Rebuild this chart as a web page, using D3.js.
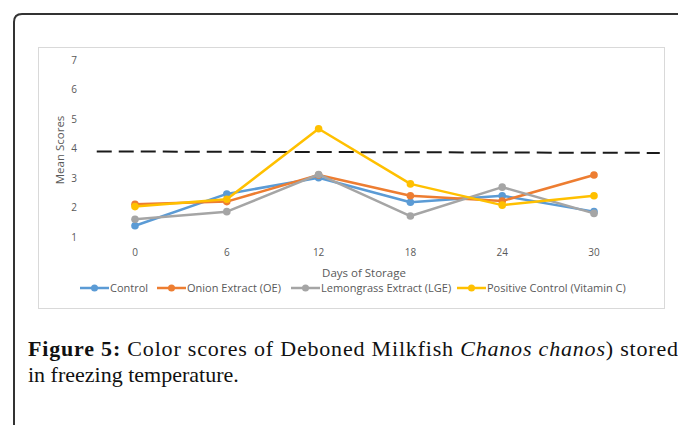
<!DOCTYPE html>
<html>
<head>
<meta charset="utf-8">
<script src="https://cdn.jsdelivr.net/npm/d3@7.9.0/dist/d3.min.js"></script>
<style>
  body { margin: 0; background: #fff; }
  svg { display: block; }
  .tick-label { font-family: "Open Sans", sans-serif; font-size: 10px; fill: #595959; }
  .axis-title { font-family: "Open Sans", sans-serif; font-size: 11.5px; fill: #595959; }
  .legend-label { font-family: "Open Sans", sans-serif; font-size: 11px; fill: #595959; }
  .caption { font-family: "Liberation Serif", "Times New Roman", serif; font-size: 22px; fill: #111; }
</style>
</head>
<body>
<div id="chart"></div>
<script>
const days = [0, 6, 12, 18, 24, 30];
const yTicks = [1, 2, 3, 4, 5, 6, 7];

const seriesNames = ["Control", "Onion Extract (OE)", "Lemongrass Extract (LGE)", "Positive Control (Vitamin C)"];
const seriesColors = ["#5B9BD5", "#ED7D31", "#A5A5A5", "#FFC000"];

const controlScores = [1.38, 2.46, 3.01, 2.18, 2.40, 1.86];
const onionScores = [2.11, 2.20, 3.10, 2.40, 2.22, 3.10];
const lemongrassScores = [1.60, 1.86, 3.12, 1.71, 2.69, 1.80];
const vitaminCScores = [2.03, 2.28, 4.67, 2.80, 2.08, 2.40];

// dashed reference line (acceptability limit)
const limitDays = [-2.5, 34.3];
const limitScores = [3.9, 3.85];

const allSeries = [controlScores, onionScores, lemongrassScores, vitaminCScores];

const W = 678, H = 425;
const svg = d3.select("#chart").append("svg")
  .attr("width", W)
  .attr("height", H);

// outer figure frame (open on right and bottom)
svg.append("path")
  .attr("d", "M14,425 L14,22 Q14,14 22,14 L680,14")
  .attr("fill", "none")
  .attr("stroke", "#333")
  .attr("stroke-width", 2);

// chart area box
svg.append("rect")
  .attr("x", 38.5)
  .attr("y", 47.5)
  .attr("width", 626)
  .attr("height", 261)
  .attr("fill", "#fff")
  .attr("stroke", "#d9d9d9")
  .attr("stroke-width", 1);

const x = d3.scaleLinear().domain([0, 30]).range([135, 594]);
const y = d3.scaleLinear().domain([1, 7]).range([237, 60]);

// y tick labels
svg.append("g").selectAll("text")
  .data(yTicks)
  .join("text")
    .attr("class", "tick-label")
    .attr("x", 77)
    .attr("y", d => y(d))
    .attr("dy", "0.35em")
    .attr("text-anchor", "end")
    .text(d => d);

// x tick labels
svg.append("g").selectAll("text")
  .data(days)
  .join("text")
    .attr("class", "tick-label")
    .attr("x", d => x(d))
    .attr("y", 252)
    .attr("dy", "0.35em")
    .attr("text-anchor", "middle")
    .text(d => d);

svg.append("text")
  .attr("class", "axis-title")
  .attr("transform", `translate(64, ${y(3.95)}) rotate(-90)`)
  .attr("text-anchor", "middle")
  .text("Mean Scores");

svg.append("text")
  .attr("class", "axis-title")
  .attr("x", 364)
  .attr("y", 273)
  .attr("dy", "0.35em")
  .attr("text-anchor", "middle")
  .text("Days of Storage");

// reference line
svg.append("line")
  .attr("x1", x(limitDays[0]))
  .attr("x2", x(limitDays[1]))
  .attr("y1", y(limitScores[0]))
  .attr("y2", y(limitScores[1]))
  .attr("stroke", "#1a1a1a")
  .attr("stroke-width", 2)
  .attr("stroke-dasharray", "15,7");

const line = d3.line()
  .x((d, i) => x(days[i]))
  .y(d => y(d));

allSeries.forEach((vals, si) => {
  const g = svg.append("g");
  g.append("path")
    .datum(vals)
    .attr("d", line)
    .attr("fill", "none")
    .attr("stroke", seriesColors[si])
    .attr("stroke-width", 2.5)
    .attr("stroke-linejoin", "round");
  g.selectAll("circle")
    .data(vals)
    .join("circle")
      .attr("cx", (d, i) => x(days[i]))
      .attr("cy", d => y(d))
      .attr("r", 3.8)
      .attr("fill", seriesColors[si]);
});

// legend
const legendX = [80, 157, 291, 457];
const legend = svg.append("g").selectAll("g")
  .data(seriesNames)
  .join("g")
    .attr("transform", (d, i) => `translate(${legendX[i]}, 288)`);

legend.append("line")
  .attr("x1", 0).attr("x2", 29)
  .attr("y1", 0).attr("y2", 0)
  .attr("stroke", (d, i) => seriesColors[i])
  .attr("stroke-width", 2.5);

legend.append("circle")
  .attr("cx", 14.5).attr("cy", 0).attr("r", 3.5)
  .attr("fill", (d, i) => seriesColors[i]);

legend.append("text")
  .attr("class", "legend-label")
  .attr("x", 30)
  .attr("y", 0)
  .attr("dy", "0.35em")
  .text(d => d);

// caption
const cap1 = svg.append("text").attr("class", "caption")
  .attr("x", 28).attr("y", 356)
  .attr("textLength", 650)
  .attr("lengthAdjust", "spacing");
cap1.append("tspan").attr("font-weight", "bold").text("Figure 5:");
cap1.append("tspan").text(" Color scores of Deboned Milkfish ");
cap1.append("tspan").attr("font-style", "italic").text("Chanos chanos");
cap1.append("tspan").text(") stored");

svg.append("text").attr("class", "caption").attr("x", 28).attr("y", 382)
  .text("in freezing temperature.");
</script>
</body>
</html>
